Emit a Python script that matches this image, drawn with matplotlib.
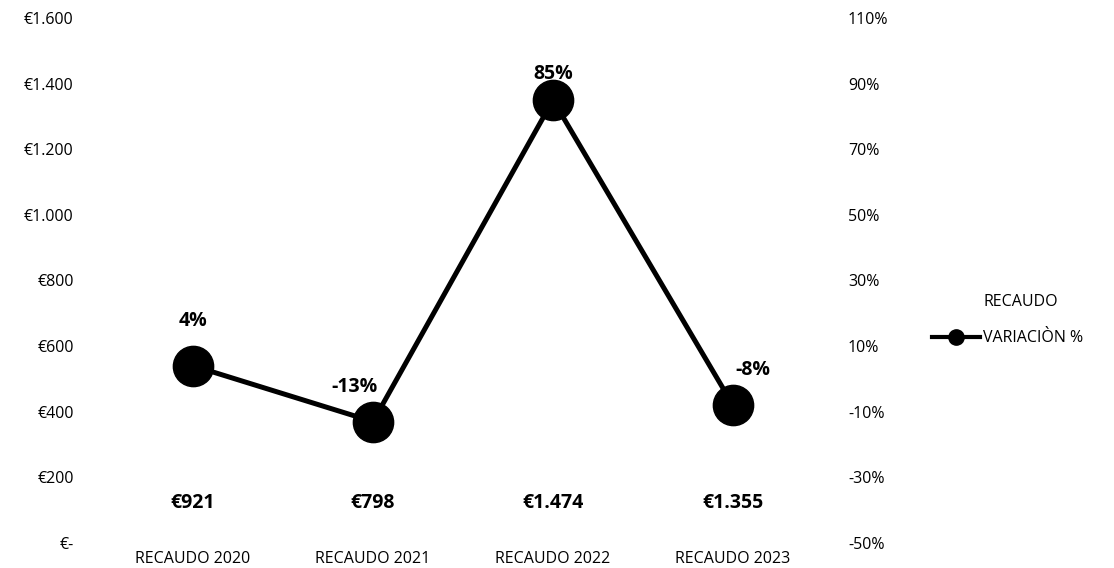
import matplotlib
matplotlib.use('Agg')
import matplotlib.pyplot as plt
from matplotlib.ticker import FuncFormatter
from matplotlib.lines import Line2D

plt.rcParams['font.family'] = ['Open Sans', 'DejaVu Sans']

categories = ['RECAUDO 2020', 'RECAUDO 2021', 'RECAUDO 2022', 'RECAUDO 2023']
recaudo = [921, 798, 1474, 1355]
recaudo_labels = ['€921', '€798', '€1.474', '€1.355']
variacion = [4, -13, 85, -8]

fig = plt.figure(figsize=(11.14, 5.68), dpi=100)
ax = fig.add_axes([103 / 1114, 1 - 543 / 568, 720 / 1114, 525 / 568])
ax2 = ax.twinx()

x = range(len(categories))
# bars are present but drawn invisible (only their labels show)
ax.bar(x, recaudo, width=0.6, color='none', edgecolor='none')
for xi, lab in zip(x, recaudo_labels):
    ax.annotate(lab, (xi, 0), xytext=(0, 29), textcoords='offset points',
                ha='center', va='center', fontsize=14, fontweight='bold')

ax.set_ylim(0, 1600)
ax.set_yticks(range(0, 1601, 200))


def euro(v, pos):
    if v == 0:
        return '€-'
    return '€' + f'{int(v):,}'.replace(',', '.')


ax.yaxis.set_major_formatter(FuncFormatter(euro))
ax.set_xlim(-0.5, 3.5)
ax.set_xticks(list(x))
ax.set_xticklabels(categories)

ax2.plot(list(x), variacion, color='black', lw=3.6, marker='o', ms=29, zorder=3)
ax2.set_ylim(-50, 110)
ax2.set_yticks(range(-50, 111, 20))
ax2.yaxis.set_major_formatter(FuncFormatter(lambda v, p: f'{int(v)}%'))

offsets = [(0, 32), (-13, 25), (0, 19), (14, 25)]
for xi, v, off in zip(x, variacion, offsets):
    ax2.annotate(f'{v}%', (xi, v), xytext=off, textcoords='offset points',
                 ha='center', va='center', fontsize=14, fontweight='bold', zorder=6)

for a in (ax, ax2):
    for s in a.spines.values():
        s.set_visible(False)
    a.tick_params(length=0, labelsize=11.5, colors='black')
ax.tick_params(axis='y', pad=21)
ax.tick_params(axis='x', pad=6)
ax2.tick_params(axis='y', pad=18)

handles = [Line2D([], [], color='none'),
           Line2D([], [], color='black', lw=3, marker='o', ms=11)]
fig.legend(handles, ['RECAUDO', 'VARIACIÒN %'], loc='center left',
           bbox_to_anchor=(918 / 1114, 1 - 320 / 568), frameon=False,
           fontsize=11.5, handlelength=3.0, handletextpad=0.2, labelspacing=1.3)

fig.savefig('out.png', dpi=100)
